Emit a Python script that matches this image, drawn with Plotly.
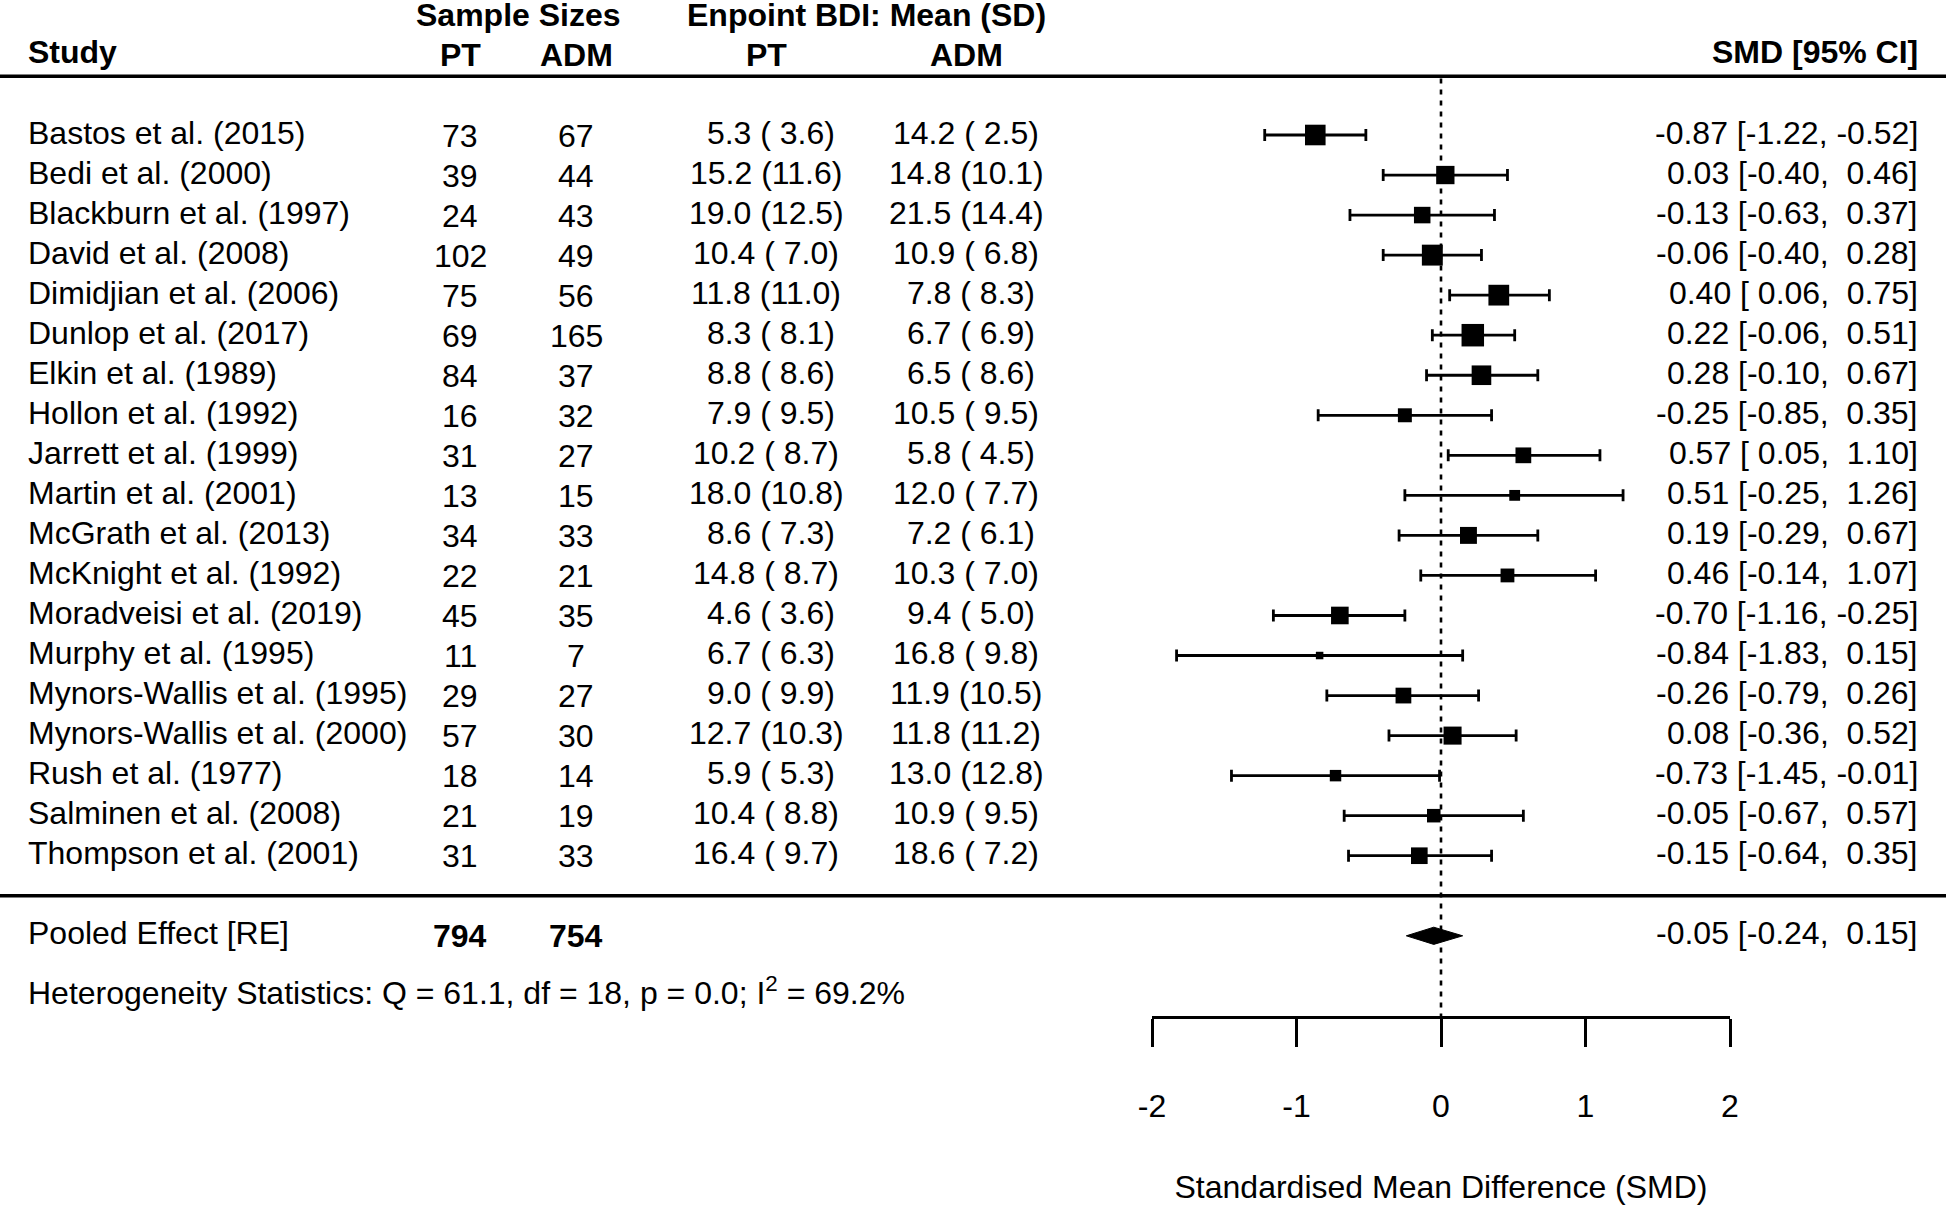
import plotly.graph_objects as go

# ---------------- data ----------------
studies = ["Bastos et al. (2015)", "Bedi et al. (2000)", "Blackburn et al. (1997)",
           "David et al. (2008)", "Dimidjian et al. (2006)", "Dunlop et al. (2017)",
           "Elkin et al. (1989)", "Hollon et al. (1992)", "Jarrett et al. (1999)",
           "Martin et al. (2001)", "McGrath et al. (2013)", "McKnight et al. (1992)",
           "Moradveisi et al. (2019)", "Murphy et al. (1995)", "Mynors-Wallis et al. (1995)",
           "Mynors-Wallis et al. (2000)", "Rush et al. (1977)", "Salminen et al. (2008)",
           "Thompson et al. (2001)"]
n_pt = [73, 39, 24, 102, 75, 69, 84, 16, 31, 13, 34, 22, 45, 11, 29, 57, 18, 21, 31]
n_adm = [67, 44, 43, 49, 56, 165, 37, 32, 27, 15, 33, 21, 35, 7, 27, 30, 14, 19, 33]
mean_pt = [5.3, 15.2, 19.0, 10.4, 11.8, 8.3, 8.8, 7.9, 10.2, 18.0, 8.6, 14.8, 4.6, 6.7, 9.0, 12.7, 5.9, 10.4, 16.4]
sd_pt = [3.6, 11.6, 12.5, 7.0, 11.0, 8.1, 8.6, 9.5, 8.7, 10.8, 7.3, 8.7, 3.6, 6.3, 9.9, 10.3, 5.3, 8.8, 9.7]
mean_adm = [14.2, 14.8, 21.5, 10.9, 7.8, 6.7, 6.5, 10.5, 5.8, 12.0, 7.2, 10.3, 9.4, 16.8, 11.9, 11.8, 13.0, 10.9, 18.6]
sd_adm = [2.5, 10.1, 14.4, 6.8, 8.3, 6.9, 8.6, 9.5, 4.5, 7.7, 6.1, 7.0, 5.0, 9.8, 10.5, 11.2, 12.8, 9.5, 7.2]
smd = [-0.87, 0.03, -0.13, -0.06, 0.40, 0.22, 0.28, -0.25, 0.57, 0.51, 0.19, 0.46, -0.70, -0.84, -0.26, 0.08, -0.73, -0.05, -0.15]
ci_lo = [-1.22, -0.40, -0.63, -0.40, 0.06, -0.06, -0.10, -0.85, 0.05, -0.25, -0.29, -0.14, -1.16, -1.83, -0.79, -0.36, -1.45, -0.67, -0.64]
ci_hi = [-0.52, 0.46, 0.37, 0.28, 0.75, 0.51, 0.67, 0.35, 1.10, 1.26, 0.67, 1.07, -0.25, 0.15, 0.26, 0.52, -0.01, 0.57, 0.35]
# approximate random-effects weights (%)
weight_pct = [6.60, 5.88, 5.31, 6.70, 6.65, 7.20, 6.29, 4.50, 5.07, 3.51, 5.44, 4.46, 5.66, 2.46, 5.07, 5.79, 3.71, 4.36, 5.35]

pooled_label = "Pooled Effect [RE]"
pooled_n_pt = 794
pooled_n_adm = 754
pooled_smd = -0.05
pooled_lo = -0.24
pooled_hi = 0.15
het_text = "Heterogeneity Statistics: Q = 61.1, df = 18, p = 0.0; I<sup>2</sup> = 69.2%"

x_ticks = [-2, -1, 0, 1, 2]
x_title = "Standardised Mean Difference (SMD)"

# ---------------- layout constants ----------------
W, H = 1946, 1205
FONT = "Liberation Sans, Arial, Helvetica, sans-serif"
FS = 32
NB = "\u00a0"

AX_LEFT, AX_RIGHT = 1152, 1730     # pixel positions of -2 and 2
AX_Y = 1016                        # pixel of axis line
ROW1_PX, ROW_STEP = 135.0, 40.04   # pixel of row 1 and row spacing

y_top = 1 - ROW1_PX / ROW_STEP
y_bot = 1 + (AX_Y - ROW1_PX) / ROW_STEP

R_HEAD1, R_HEAD2, R_TOPRULE = -1.94, -1.0, -0.47
R_BOTRULE, R_POOL, R_HET, R_AXIS = 20.0, 21.0, 22.45, y_bot

X_NAME = 27 / W
X_NPT = 460 / W
X_NADM = 576 / W
X_MPT = 766 / W
X_MADM = 966 / W
X_SMD = 1919 / W

TXT_UP = 2.5     # text with brackets sits slightly above the row centre
NUM_UP = -0.5

rows = list(range(1, len(studies) + 1))


def fmt_ms(m, s):
    return f"{m:4.1f} ({s:4.1f})".replace(" ", NB)


def fmt_ci(e, lo, hi):
    return f"{e:5.2f} [{lo:5.2f}, {hi:5.2f}]".replace(" ", NB)


ann = []


def add(text, x, y, anchor, shift=TXT_UP, bold=False):
    ann.append(dict(text=f"<b>{text}</b>" if bold else text, x=x, y=y,
                    xref="paper", yref="y", xanchor=anchor, yanchor="middle",
                    showarrow=False, yshift=shift, borderpad=0,
                    font=dict(family=FONT, size=FS, color="black")))


# headers
add("Sample Sizes", (X_NPT + X_NADM) / 2, R_HEAD1, "center", bold=True)
add("Enpoint BDI: Mean (SD)", (X_MPT + X_MADM) / 2, R_HEAD1, "center", bold=True)
add("Study", X_NAME, R_HEAD2, "left", bold=True)
add("PT", X_NPT, R_HEAD2, "center", NUM_UP, bold=True)
add("ADM", X_NADM, R_HEAD2, "center", NUM_UP, bold=True)
add("PT", X_MPT, R_HEAD2, "center", NUM_UP, bold=True)
add("ADM", X_MADM, R_HEAD2, "center", NUM_UP, bold=True)
add("SMD [95% CI]", X_SMD, R_HEAD2, "right", bold=True)

# study rows
for i, r in enumerate(rows):
    add(studies[i], X_NAME, r, "left")
    add(str(n_pt[i]), X_NPT, r, "center", NUM_UP)
    add(str(n_adm[i]), X_NADM, r, "center", NUM_UP)
    add(fmt_ms(mean_pt[i], sd_pt[i]), X_MPT, r, "center")
    add(fmt_ms(mean_adm[i], sd_adm[i]), X_MADM, r, "center")
    add(fmt_ci(smd[i], ci_lo[i], ci_hi[i]), X_SMD, r, "right")

# pooled + heterogeneity
add(pooled_label, X_NAME, R_POOL, "left")
add(str(pooled_n_pt), X_NPT, R_POOL, "center", NUM_UP, bold=True)
add(str(pooled_n_adm), X_NADM, R_POOL, "center", NUM_UP, bold=True)
add(fmt_ci(pooled_smd, pooled_lo, pooled_hi), X_SMD, R_POOL, "right")
add(het_text, X_NAME, R_HET, "left")

# marker sizes: linear in weight (metafor style)
wmin, wmax = min(weight_pct), max(weight_pct)
SMIN, SMAX = 7.5, 22.5
sizes = [SMIN + (w - wmin) / (wmax - wmin) * (SMAX - SMIN) for w in weight_pct]

fig = go.Figure()
fig.add_trace(go.Scatter(
    x=smd, y=rows, mode="markers", cliponaxis=False,
    marker=dict(symbol="square", size=sizes, color="black", opacity=1,
                line=dict(width=0)),
    error_x=dict(type="data", symmetric=False,
                 array=[h - e for h, e in zip(ci_hi, smd)],
                 arrayminus=[e - l for e, l in zip(smd, ci_lo)],
                 color="black", thickness=2.8, width=6),
    showlegend=False, hoverinfo="skip"))

# pooled diamond
DH = 8.6 / ROW_STEP
fig.add_trace(go.Scatter(
    x=[pooled_lo, pooled_smd, pooled_hi, pooled_smd, pooled_lo],
    y=[R_POOL, R_POOL - DH, R_POOL, R_POOL + DH, R_POOL],
    mode="lines", fill="toself", fillcolor="black", cliponaxis=False,
    line=dict(color="black", width=1), showlegend=False, hoverinfo="skip"))

shapes = [
    dict(type="line", xref="paper", yref="y", x0=0, x1=1, y0=R_TOPRULE, y1=R_TOPRULE,
         line=dict(color="black", width=3.5)),
    dict(type="line", xref="paper", yref="y", x0=0, x1=1, y0=R_BOTRULE, y1=R_BOTRULE,
         line=dict(color="black", width=3.5)),
    dict(type="line", xref="x", yref="y", x0=0, x1=0, y0=R_TOPRULE + 0.06, y1=R_AXIS,
         layer="below", line=dict(color="black", width=2.6, dash="5px,6px")),
]

fig.update_layout(
    width=W, height=H, margin=dict(l=0, r=0, t=0, b=0),
    paper_bgcolor="white", plot_bgcolor="white",
    font=dict(family=FONT, size=FS, color="black"),
    annotations=ann, shapes=shapes,
    xaxis=dict(domain=[AX_LEFT / W, AX_RIGHT / W], range=[-2, 2],
               tickvals=x_ticks, ticktext=[str(t) for t in x_ticks],
               ticks="outside", ticklen=28, tickwidth=3, tickcolor="black",
               showline=True, linewidth=3.3, linecolor="black",
               showgrid=False, zeroline=False, automargin=False,
               tickfont=dict(family=FONT, size=FS, color="black"),
               ticklabelstandoff=31,
               title=dict(text=x_title, standoff=56,
                          font=dict(family=FONT, size=FS, color="black"))),
    yaxis=dict(domain=[1 - AX_Y / H, 1], range=[y_bot, y_top], visible=False,
               automargin=False),
)

fig.write_html("out.html",
               config={"displayModeBar": False, "staticPlot": True},
               post_script="document.body.style.margin='0';"
                           "document.body.style.padding='0';"
                           "document.body.style.overflow='hidden';")
